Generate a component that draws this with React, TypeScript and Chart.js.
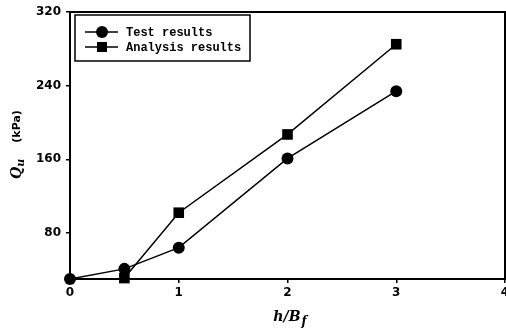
import React, { useEffect, useRef } from "react";
import { Chart, registerables } from "chart.js";

Chart.register(...registerables);

const testX = [0, 0.5, 1, 2, 3];
const testY = [30, 41, 64, 161, 234];
const analysisX = [0.5, 1, 2, 3];
const analysisY = [31, 102, 187, 285];
const yTicks = [80, 160, 240, 320];
const legendLabels = ["Test results", "Analysis results"];

const framePlugin = {
  id: "frame",
  afterDraw(chart: any) {
    const { ctx, chartArea: a } = chart;
    ctx.save();
    ctx.strokeStyle = "#000";
    ctx.lineWidth = 2;
    ctx.strokeRect(a.left, a.top, a.right - a.left, a.bottom - a.top);

    // legend box
    const lx = 75, ly = 15, lw = 175, lh = 46;
    ctx.lineWidth = 1.5;
    ctx.fillStyle = "#fff";
    ctx.fillRect(lx, ly, lw, lh);
    ctx.strokeRect(lx, ly, lw, lh);
    const rows = [32, 47];
    rows.forEach((ry, i) => {
      ctx.beginPath();
      ctx.lineWidth = 1.5;
      ctx.moveTo(85, ry);
      ctx.lineTo(118, ry);
      ctx.stroke();
      ctx.fillStyle = "#000";
      if (i === 0) {
        ctx.beginPath();
        ctx.arc(102, ry, 6, 0, Math.PI * 2);
        ctx.fill();
      } else {
        ctx.fillRect(97, ry - 5, 10, 10);
      }
      ctx.font = "bold 12px 'Liberation Mono'";
      ctx.textBaseline = "middle";
      ctx.textAlign = "left";
      ctx.fillText(legendLabels[i], 126, ry + 1);
    });

    // x title
    ctx.fillStyle = "#000";
    ctx.textBaseline = "alphabetic";
    ctx.font = "italic bold 14px 'DejaVu Serif'";
    const main = "h/B";
    const mw = ctx.measureText(main).width;
    ctx.font = "italic bold 12px 'DejaVu Serif'";
    const sw = ctx.measureText("f").width;
    const cx = (a.left + a.right) / 2 + 2;
    let sx = cx - (mw + sw) / 2;
    ctx.font = "italic bold 14px 'DejaVu Serif'";
    ctx.fillText(main, sx, 321);
    ctx.font = "italic bold 12px 'DejaVu Serif'";
    ctx.fillText("f", sx + mw + 1, 325);

    // y title
    ctx.translate(21, (a.top + a.bottom) / 2 - 1);
    ctx.rotate(-Math.PI / 2);
    ctx.font = "italic bold 14px 'DejaVu Serif'";
    const qw = ctx.measureText("Q").width;
    ctx.font = "italic bold 11px 'DejaVu Serif'";
    const uw = ctx.measureText("u").width;
    ctx.font = "bold 11px 'DejaVu Sans'";
    const kw = ctx.measureText("(kPa)").width;
    const gap = 16;
    const total = qw + uw + gap + kw;
    let px = -total / 2;
    ctx.font = "italic bold 14px 'DejaVu Serif'";
    ctx.fillText("Q", px, 0);
    px += qw;
    ctx.font = "italic bold 11px 'DejaVu Serif'";
    ctx.fillText("u", px, 3);
    px += uw + gap;
    ctx.font = "bold 11px 'DejaVu Sans'";
    ctx.fillText("(kPa)", px, -1);
    ctx.restore();
  },
};

export default function App() {
  const ref = useRef<HTMLCanvasElement>(null);
  useEffect(() => {
    document.body.style.margin = "0";
    const tickFont = { family: "'DejaVu Sans'", size: 12, weight: "bold" as const };
    const chart = new Chart(ref.current!, {
      type: "line",
      data: {
        datasets: [
          {
            label: legendLabels[1],
            data: analysisX.map((x, i) => ({ x, y: analysisY[i] })),
            borderColor: "#000",
            backgroundColor: "#000",
            borderWidth: 1.5,
            pointStyle: "rect",
            pointRadius: 7.5,
            pointBorderWidth: 0,
            clip: false,
          } as any,
          {
            label: legendLabels[0],
            data: testX.map((x, i) => ({ x, y: testY[i] })),
            borderColor: "#000",
            backgroundColor: "#000",
            borderWidth: 1.5,
            pointStyle: "circle",
            pointRadius: 6,
            pointBorderWidth: 0,
            clip: false,
          } as any,
        ],
      },
      options: {
        animation: false,
        responsive: false,
        layout: { autoPadding: false, padding: { top: 12, right: 1, left: 0, bottom: 0 } },
        plugins: { legend: { display: false }, tooltip: { enabled: false } },
        scales: {
          x: {
            type: "linear",
            min: 0,
            max: 4,
            ticks: { stepSize: 1, color: "#000", font: tickFont, padding: 3 },
            grid: { drawOnChartArea: false, drawTicks: true, tickLength: 4, color: "#000", lineWidth: 1.5 },
            border: { color: "#000", width: 2 },
            afterFit: (s: any) => {
              s.height = 52;
              s.paddingRight = 0;
              s.paddingLeft = 0;
            },
          },
          y: {
            type: "linear",
            min: 30,
            max: 320,
            afterBuildTicks: (s: any) => {
              s.ticks = yTicks.map((v) => ({ value: v }));
            },
            ticks: { color: "#000", font: tickFont, padding: 5 },
            grid: { drawOnChartArea: false, drawTicks: true, tickLength: 4, color: "#000", lineWidth: 1.5 },
            border: { color: "#000", width: 2 },
            afterFit: (s: any) => {
              s.width = 70;
              s.paddingTop = 0;
              s.paddingBottom = 0;
            },
          },
        },
      },
      plugins: [framePlugin],
    });
    return () => chart.destroy();
  }, []);
  return <canvas ref={ref} width={506} height={331} style={{ display: "block" }} />;
}
